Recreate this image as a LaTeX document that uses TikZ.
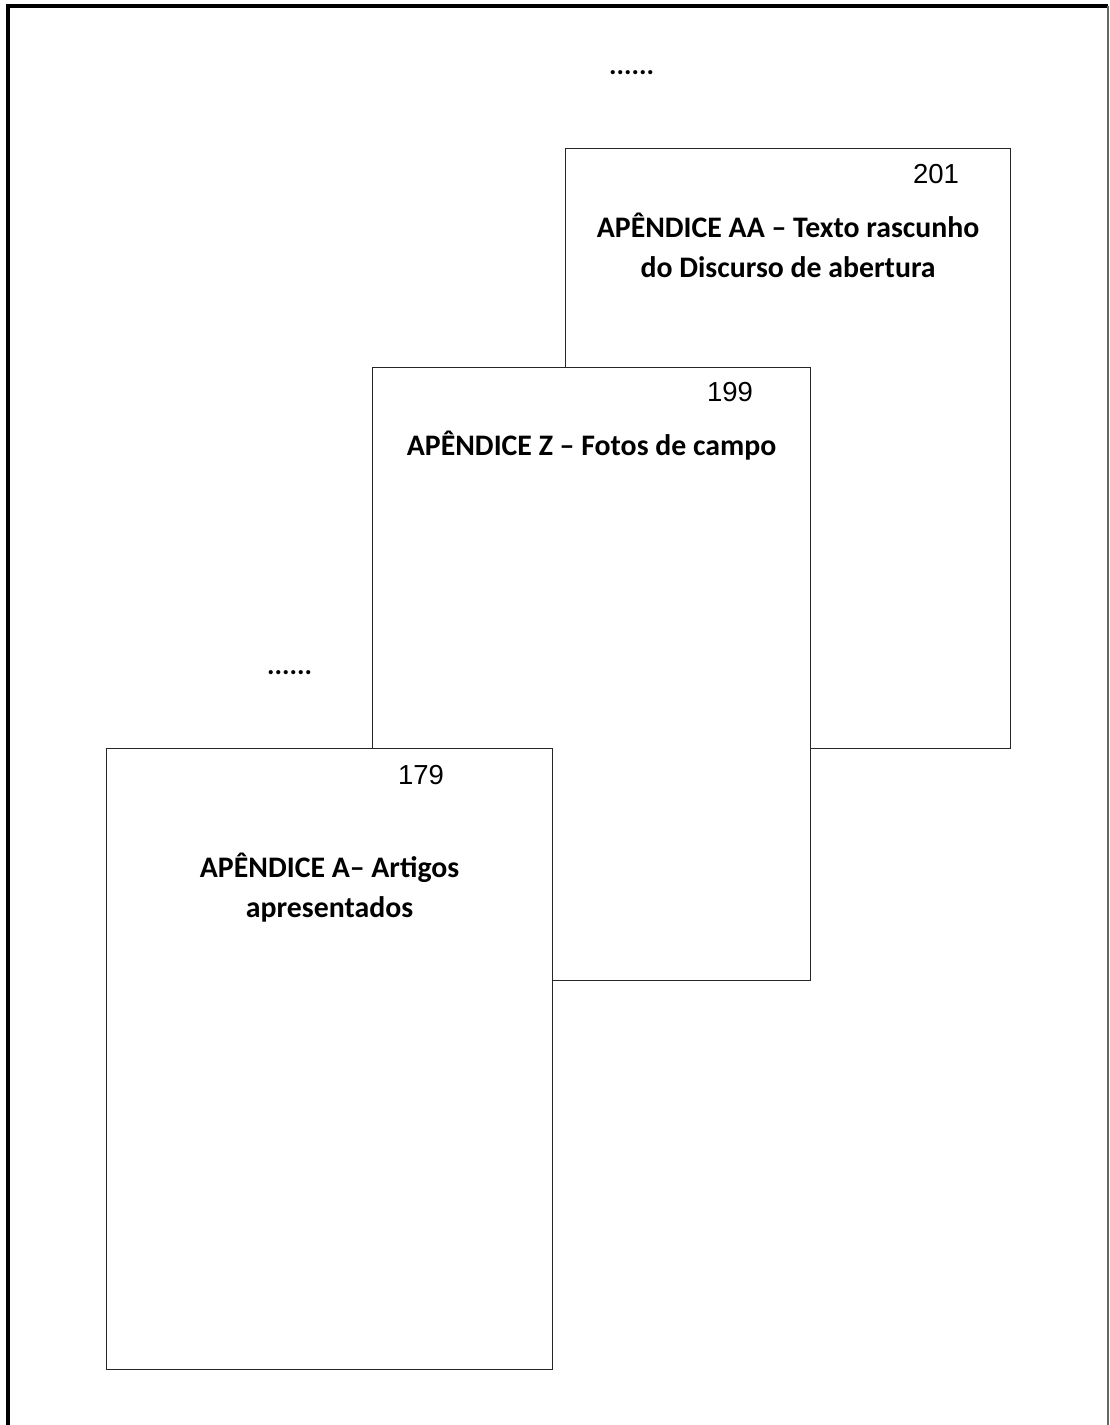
\documentclass[tikz,border=0pt]{standalone}
\usepackage{fontspec}
\setmainfont{Carlito}
\newfontfamily\numfont{Liberation Sans}
\usetikzlibrary{positioning}

\begin{document}
\begin{tikzpicture}[x=1pt,y=-1pt,
  page/.style={draw=black!85,line width=1.2pt,fill=white,inner sep=0pt,anchor=north west},
  pagenum/.style={font=\numfont\fontsize{27.5}{31}\selectfont,inner sep=0pt,anchor=east},
  pagetitle/.style={font=\bfseries\fontsize{29.8}{40}\selectfont,align=center,inner sep=0pt,anchor=base},
  dots/.style={font=\bfseries\fontsize{28}{32}\selectfont,inner sep=0pt,anchor=base west}]
\useasboundingbox (0,0) rectangle (1109,1425);
% frame of the page
\draw [line width=4pt] (8,1425) -- (8,6) -- (1108,6);
\draw [line width=1.2pt,black!60] (1108,6) -- (1108,1425);

\node [dots] (dotsTop) at (609,74) {......};
\node [dots] (dotsMid) at (267,674) {......};

% pages, back to front (base of a title = its last line)
\node [page,minimum width=445pt,minimum height=600pt] (pageAA) at (565,148) {};
\node [pagenum,at=(pageAA.north east),xshift=-52pt,yshift=-26pt] (numAA) {201};
\node [pagetitle,at=(pageAA.north),yshift=-129pt] (titleAA) {APÊNDICE AA – Texto rascunho\\do Discurso de abertura};

\node [page,minimum width=438pt,minimum height=613pt] (pageZ) at (372,367) {};
\node [pagenum,at=(pageZ.north east),xshift=-58pt,yshift=-25pt] (numZ) {199};
\node [pagetitle,at=(pageZ.north),yshift=-88pt] (titleZ) {APÊNDICE Z – Fotos de campo};

\node [page,minimum width=446pt,minimum height=621pt] (pageA) at (106,748) {};
\node [pagenum,at=(pageA.north east),xshift=-109pt,yshift=-27pt] (numA) {179};
\node [pagetitle,at=(pageA.north),yshift=-169pt] (titleA) {APÊNDICE A– Artigos\\apresentados};
\end{tikzpicture}
\end{document}
